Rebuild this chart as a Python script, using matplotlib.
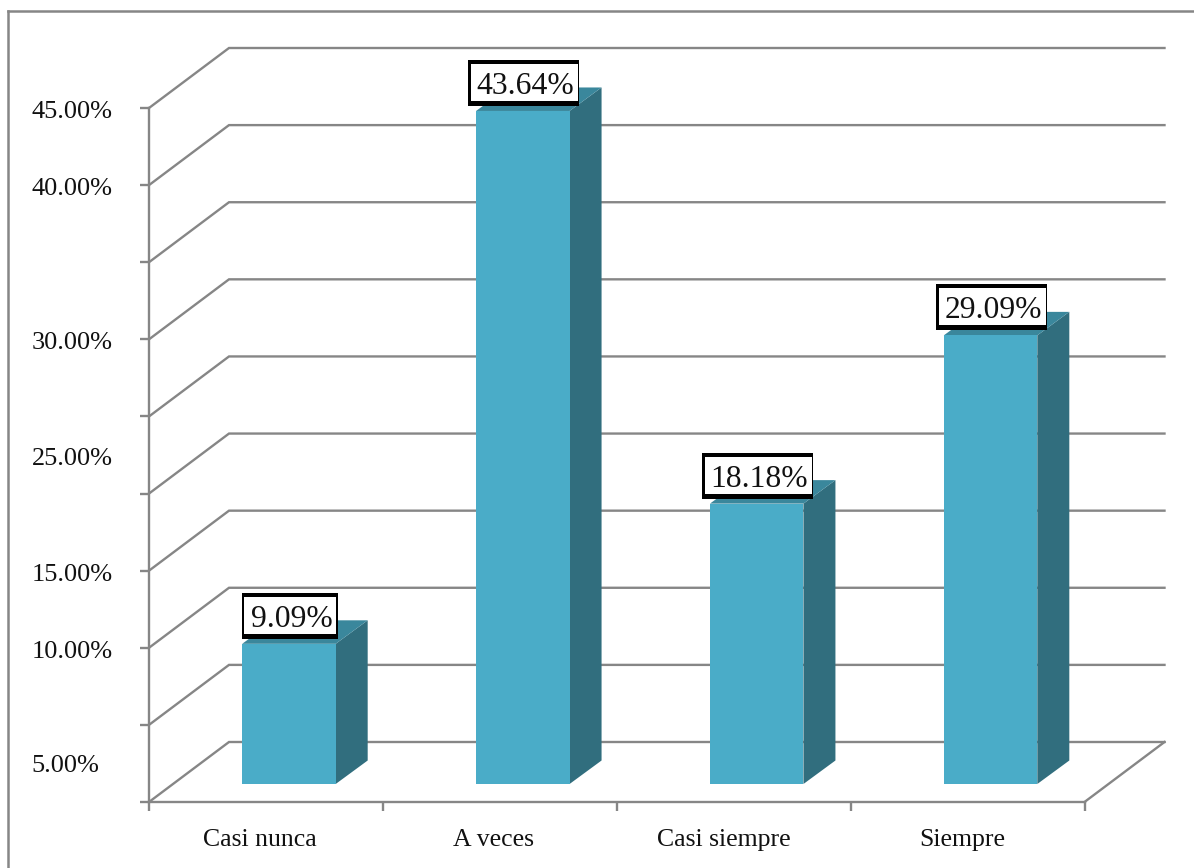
import numpy as np
import matplotlib
matplotlib.use('Agg')
import matplotlib.pyplot as plt
from matplotlib.lines import Line2D
from matplotlib.patches import FancyBboxPatch, Polygon, Rectangle

# Values
categories = ['Casi nunca', 'A veces', 'Casi siempre', 'Siempre']
values = [9.09, 43.64, 18.18, 29.09]
grid_values = [0, 5, 10, 15, 20, 25, 30, 35, 40, 45]
y_labels = ['45.00%', '40.00%', '30.00%', '25.00%', '15.00%', '10.00%', '5.00%']
# the original chart puts these labels unevenly along the axis
y_label_pos = [44.9, 39.9, 29.9, 22.4, 14.9, 9.9, 2.5]

W, H = 1194, 868
GRAY = '#868686'
FRONT = '#4aacc8'
SIDE = '#316e7e'
TOP = '#3a879c'

plt.rcParams['font.family'] = ['Liberation Serif', 'DejaVu Serif']

fig = plt.figure(figsize=(W / 100, H / 100), dpi=100)
ax = fig.add_axes([149 / W, (H - 802) / H, 935.5 / W, 694 / H])
ax.set_xlim(-0.5, 3.5)
ax.set_ylim(0, 45)

# pixel sizes in data units, for the fake 3D depth
px_x = 4 / 935.5
px_y = 45 / 694

# outer frame, runs off the right and bottom edge of the picture
for xs, ys in [((8, W), (11, 11)), ((8, 8), (11, H))]:
    fig.add_artist(Line2D([x / W for x in xs], [1 - y / H for y in ys], color=GRAY, lw=1.8))

# walls and floor
wall_dx = 80 * px_x
wall_dy = 60 * px_y
for v in grid_values:
    ax.plot([-0.5, -0.5 + wall_dx, 3.5 + wall_dx], [v, v + wall_dy, v + wall_dy],
            color=GRAY, lw=1.7, clip_on=False, zorder=1, solid_joinstyle='miter')
ax.plot([3.5, 3.5 + wall_dx], [0, wall_dy], color=GRAY, lw=1.7, clip_on=False, zorder=1)

# bars
bar_w = 93.5 * px_x
shift_x = 23 * px_x
lift = 18 * px_y
side_x = 32 * px_x
side_y = 23.5 * px_y
for i, v in enumerate(values):
    x0 = i + shift_x - bar_w / 2
    x1 = x0 + bar_w
    y0 = lift
    y1 = lift + v
    ax.add_patch(Polygon([(x1, y0), (x1 + side_x, y0 + side_y), (x1 + side_x, y1 + side_y), (x1, y1)],
                         fc=SIDE, ec='none', clip_on=False, zorder=3))
    ax.add_patch(Polygon([(x0, y1), (x1, y1), (x1 + side_x, y1 + side_y), (x0 + side_x, y1 + side_y)],
                         fc=TOP, ec='none', clip_on=False, zorder=3))
    ax.add_patch(Rectangle((x0, y0), bar_w, v, fc=FRONT, ec='none', clip_on=False, zorder=4))

    # data label: black box with a white inside, heavier on top and bottom
    label = f'{v:.2f}%'
    box_w = (96 if v < 10 else 111) * px_x
    box_x = i + shift_x + 1 * px_x - box_w / 2
    box_y = y1 + 5 * px_y
    box_h = 46 * px_y
    ax.add_patch(FancyBboxPatch((box_x, box_y), box_w, box_h, boxstyle='square,pad=0',
                                fc='black', ec='none', clip_on=False, zorder=5))
    ax.add_patch(Rectangle((box_x + 2.5 * px_x, box_y + 5 * px_y), box_w - 4 * px_x, box_h - 9 * px_y,
                           fc='white', ec='none', clip_on=False, zorder=5))
    ax.annotate(label, (box_x + box_w / 2, y1), xytext=(1.5 * 0.72, 17 * 0.72), textcoords='offset points',
                ha='center', va='baseline', fontsize=22.8, color='#111111', zorder=6)

# axes
for s in ['top', 'right']:
    ax.spines[s].set_visible(False)
for s in ['left', 'bottom']:
    ax.spines[s].set_color(GRAY)
    ax.spines[s].set_linewidth(1.7)
ax.patch.set_alpha(0)
ax.set_xticks([-0.5, 0.5, 1.5, 2.5, 3.5])
ax.set_yticks(grid_values)
ax.set_xticklabels([])
ax.set_yticklabels([])
ax.tick_params(color=GRAY, width=1.7, length=6.5)

for pos, lab in zip(y_label_pos, y_labels):
    ax.annotate(lab, (-0.5, pos), xytext=(-117.5 * 0.72, -2.5 * 0.72), textcoords='offset points',
                ha='left', va='center', fontsize=18.9, color='#111111', annotation_clip=False)

label_shift = [-6.5, -6, -10, -5]
for i, (cat, sh) in enumerate(zip(categories, label_shift)):
    ax.annotate(cat, (i, 0), xytext=(sh * 0.72, -38 * 0.72), textcoords='offset points',
                ha='center', va='center', fontsize=18.5, color='#111111', annotation_clip=False)

fig.savefig('out.png', dpi=100)
